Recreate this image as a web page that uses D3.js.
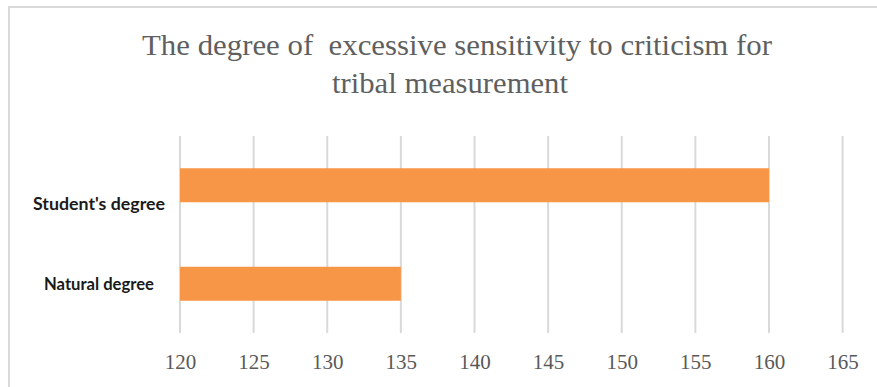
<!DOCTYPE html>
<html>
<head>
<meta charset="utf-8">
<script src="https://cdn.jsdelivr.net/npm/d3@7"></script>
<style>
  html, body { margin: 0; padding: 0; background: #fff; }
  svg { display: block; }
  .title { white-space: pre; }
</style>
</head>
<body>
<svg id="chart" width="877" height="387"></svg>
<script>
// Chart data
const categories = ["Student's degree", "Natural degree"];
const values = [160, 135];
const tickValues = [120, 125, 130, 135, 140, 145, 150, 155, 160, 165];
const titleLines = ["The degree of  excessive sensitivity to criticism for", "tribal measurement"];

const W = 877, H = 387;
const svg = d3.select("#chart");

// Chart frame (left and top edges)
svg.append("path")
  .attr("d", `M9,${H} V7 H${W}`)
  .attr("fill", "none")
  .attr("stroke", "#d9d9d9")
  .attr("stroke-width", 2);

// Title
const titleFont = "'Liberation Serif', 'Times New Roman', serif";
const titleSpecs = [
  { cx: 457, y: 55, width: 630 },
  { cx: 450, y: 93, width: 236 }
];
titleLines.forEach((t, i) => {
  svg.append("text")
    .attr("class", "title")
    .attr("x", titleSpecs[i].cx)
    .attr("y", titleSpecs[i].y)
    .attr("text-anchor", "middle")
    .attr("font-family", titleFont)
    .attr("font-size", 29)
    .attr("fill", "#5f5f5f")
    .attr("textLength", titleSpecs[i].width)
    .attr("lengthAdjust", "spacingAndGlyphs")
    .text(t);
});

// Plot area
const plot = { left: 180, right: 842.6, top: 136, bottom: 333 };

const x = d3.scaleLinear()
  .domain([120, 165])
  .range([plot.left, plot.right]);

const y = d3.scaleBand()
  .domain(categories)
  .range([plot.top, plot.bottom])
  .paddingInner(0.655)
  .paddingOuter(0.3275);

// Vertical gridlines
svg.append("g")
  .selectAll("line")
  .data(tickValues)
  .join("line")
  .attr("x1", d => x(d))
  .attr("x2", d => x(d))
  .attr("y1", plot.top)
  .attr("y2", plot.bottom)
  .attr("stroke", "#d9d9d9")
  .attr("stroke-width", 2);

// Bars
svg.append("g")
  .selectAll("rect")
  .data(categories)
  .join("rect")
  .attr("x", x(120))
  .attr("y", d => y(d))
  .attr("width", (d, i) => x(values[i]) - x(120))
  .attr("height", y.bandwidth())
  .attr("fill", "#f79646");

// Bottom axis labels
const xAxis = d3.axisBottom(x)
  .tickValues(tickValues)
  .tickSize(0)
  .tickPadding(0)
  .tickFormat(d3.format("d"));

const gx = svg.append("g")
  .attr("transform", `translate(0,${plot.bottom})`)
  .call(xAxis);
gx.select(".domain").remove();
gx.selectAll("text")
  .attr("y", 36)
  .attr("dy", null)
  .attr("font-family", titleFont)
  .attr("font-size", 21)
  .attr("fill", "#595959");

// Category labels
const labelFont = "Lato, 'Open Sans', sans-serif";
const labelWidths = { "Student's degree": 132, "Natural degree": 110 };
const labelShift = { "Student's degree": 19, "Natural degree": 0 };
svg.append("g")
  .selectAll("text")
  .data(categories)
  .join("text")
  .attr("x", 99)
  .attr("y", d => y(d) + y.bandwidth() / 2 + labelShift[d])
  .attr("dy", "0.35em")
  .attr("text-anchor", "middle")
  .attr("font-family", labelFont)
  .attr("font-weight", "bold")
  .attr("font-size", 16.5)
  .attr("fill", "#1a1a1a")
  .attr("textLength", d => labelWidths[d])
  .attr("lengthAdjust", "spacingAndGlyphs")
  .text(d => d);
</script>
</body>
</html>
